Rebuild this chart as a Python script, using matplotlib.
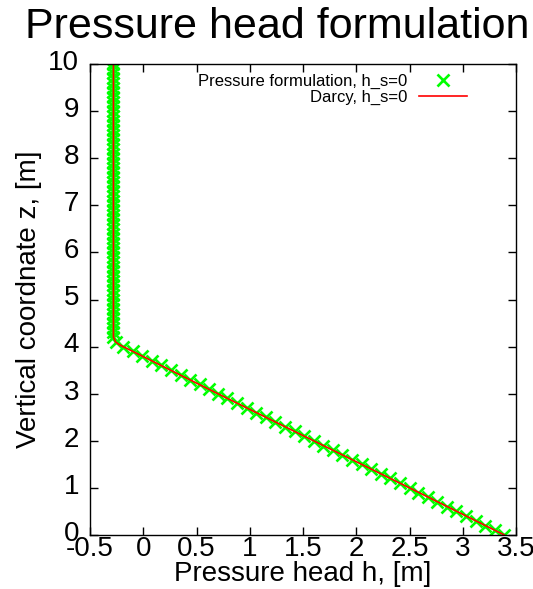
import matplotlib
matplotlib.use("Agg")
import matplotlib.pyplot as plt
import matplotlib.transforms as mtransforms

plt.rcParams["font.family"] = ["Liberation Sans", "DejaVu Sans"]

# pressure-formulation solution, one value per node (z in m, h in m)
z_nodes = [
    0.0, 0.1, 0.2, 0.3, 0.4, 0.5, 0.6, 0.7, 0.8, 0.9,
    1.0, 1.1, 1.2, 1.3, 1.4, 1.5, 1.6, 1.7, 1.8, 1.9,
    2.0, 2.1, 2.2, 2.3, 2.4, 2.5, 2.6, 2.7, 2.8, 2.9,
    3.0, 3.1, 3.2, 3.3, 3.4, 3.5, 3.6, 3.7, 3.8, 3.9,
    4.0, 4.1, 4.2, 4.3, 4.4, 4.5, 4.6, 4.7, 4.8, 4.9,
    5.0, 5.1, 5.2, 5.3, 5.4, 5.5, 5.6, 5.7, 5.8, 5.9,
    6.0, 6.1, 6.2, 6.3, 6.4, 6.5, 6.6, 6.7, 6.8, 6.9,
    7.0, 7.1, 7.2, 7.3, 7.4, 7.5, 7.6, 7.7, 7.8, 7.9,
    8.0, 8.1, 8.2, 8.3, 8.4, 8.5, 8.6, 8.7, 8.8, 8.9,
    9.0, 9.1, 9.2, 9.3, 9.4, 9.5, 9.6, 9.7, 9.8, 9.9,
    10.0,
]
h_pressure = [
    3.39, 3.30, 3.21, 3.12, 3.03, 2.94, 2.85, 2.76, 2.67, 2.58,
    2.50, 2.41, 2.32, 2.23, 2.14, 2.05, 1.96, 1.87, 1.78, 1.69,
    1.60, 1.51, 1.42, 1.33, 1.24, 1.15, 1.06, 0.97, 0.88, 0.79,
    0.70, 0.62, 0.53, 0.44, 0.35, 0.26, 0.17, 0.08, -0.01, -0.10,
    -0.19, -0.26, -0.28, -0.28, -0.28, -0.28, -0.28, -0.28, -0.28, -0.28,
    -0.28, -0.28, -0.28, -0.28, -0.28, -0.28, -0.28, -0.28, -0.28, -0.28,
    -0.28, -0.28, -0.28, -0.28, -0.28, -0.28, -0.28, -0.28, -0.28, -0.28,
    -0.28, -0.28, -0.28, -0.28, -0.28, -0.28, -0.28, -0.28, -0.28, -0.28,
    -0.28, -0.28, -0.28, -0.28, -0.28, -0.28, -0.28, -0.28, -0.28, -0.28,
    -0.28, -0.28, -0.28, -0.28, -0.28, -0.28, -0.28, -0.28, -0.28, -0.28,
    -0.28,
]

# Darcy solution
z_darcy = [0.0, 1.0, 2.0, 3.0, 3.9, 4.0, 4.05, 4.1, 4.2, 10.0]
h_darcy = [3.39, 2.50, 1.60, 0.70, -0.10, -0.19, -0.23, -0.26, -0.28, -0.28]

x_ticks = [-0.5, 0, 0.5, 1, 1.5, 2, 2.5, 3, 3.5]
x_ticklabels = ["-0.5", "0", "0.5", "1", "1.5", "2", "2.5", "3", "3.5"]
y_ticks = list(range(0, 11))

fig = plt.figure(figsize=(5.33, 5.89), dpi=100)
ax = fig.add_axes([0.1689, 0.0917, 0.7993, 0.7996])

ax.plot(h_pressure, z_nodes, linestyle="none", marker="x", color="#00ff00",
        markersize=8.5, markeredgewidth=1.9, label="Pressure formulation, h_s=0")
ax.plot(h_darcy, z_darcy, color="#ff0000", linewidth=1.2, label="Darcy, h_s=0")

ax.set_xlim(-0.5, 3.5)
ax.set_ylim(0, 10)
ax.set_xticks(x_ticks)
ax.set_xticklabels(x_ticklabels)
ax.set_yticks(y_ticks)
ax.tick_params(direction="in", length=6, width=1, labelsize=20,
               top=True, right=True)
ax.tick_params(axis="x", pad=1)
ax.tick_params(axis="y", pad=8)
for s in ax.spines.values():
    s.set_linewidth(1)

# gnuplot sets the y labels a few pixels above their ticks
shift = mtransforms.ScaledTranslation(0, 3 / 72, fig.dpi_scale_trans)
for lbl in ax.get_yticklabels():
    lbl.set_transform(lbl.get_transform() + shift)

ax.set_xlabel("Pressure head h, [m]", fontsize=20, labelpad=-1)
ax.set_ylabel("Vertical coordnate z, [m]", fontsize=20, labelpad=4)

fig.text(0.52, 0.935, "Pressure head formulation", fontsize=31,
         ha="center", va="baseline")

ax.legend(loc="upper right", bbox_to_anchor=(0.885, 0.979), frameon=False,
          markerfirst=False, fontsize=12, borderpad=0, labelspacing=0.02,
          handlelength=2.9, handletextpad=0.7, borderaxespad=0)

fig.savefig("out.png", dpi=100)
